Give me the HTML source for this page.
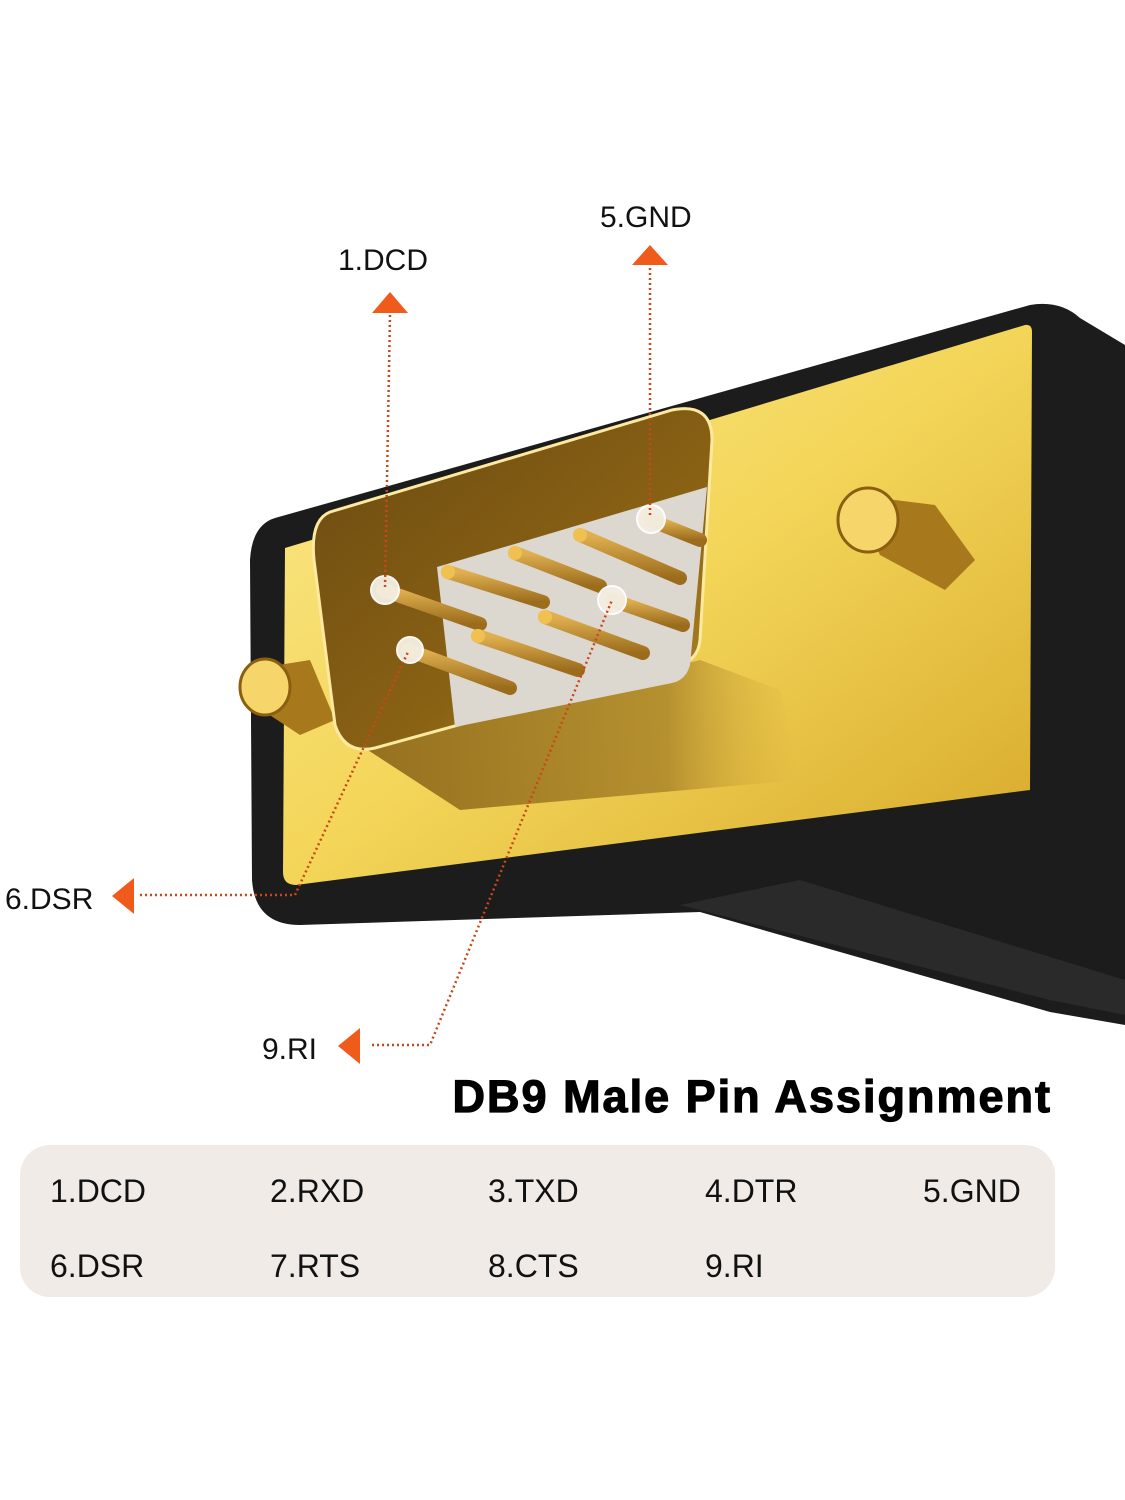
<!DOCTYPE html>
<html><head><meta charset="utf-8"><style>
body{margin:0;width:1125px;height:1500px;background:#fff;overflow:hidden;font-family:"Liberation Sans",sans-serif}
svg{position:absolute;left:0;top:0}
</style></head><body>
<svg width="1125" height="1500" viewBox="0 0 1125 1500">
<defs>
<linearGradient id="gold" x1="0" y1="0" x2="1" y2="1">
<stop offset="0" stop-color="#fbe98e"/><stop offset="0.5" stop-color="#f3d558"/><stop offset="1" stop-color="#d6a82a"/></linearGradient>
<linearGradient id="shell" x1="0" y1="0" x2="1" y2="1">
<stop offset="0" stop-color="#6b4a12"/><stop offset="0.6" stop-color="#8a6214"/><stop offset="1" stop-color="#b48a2a"/></linearGradient>
<linearGradient id="sh" x1="0" y1="0" x2="1" y2="0">
<stop offset="0" stop-color="#8a6418"/><stop offset="0.7" stop-color="#b08a2c"/><stop offset="1" stop-color="#d8b040" stop-opacity="0"/></linearGradient>
<linearGradient id="rod" x1="0" y1="0" x2="0" y2="1">
<stop offset="0" stop-color="#e0b050"/><stop offset="1" stop-color="#9b6c1c"/></linearGradient>
</defs>
<path d="M275 518 L1030 305 Q1060 300 1080 318 L1125 345 L1125 1025 L1050 1012 L700 912 L300 925 Q255 925 252 880 L250 560 Q252 525 275 518 Z" fill="#1c1c1c"/>
<path d="M680 905 L1050 1000 L1125 1015 L1125 980 L800 880 Z" fill="#2a2a2a"/>
<path d="M285 548 L1025 325 Q1032 324 1032 332 L1030 790 L296 885 Q283 885 283 872 Z" fill="url(#gold)"/>
<path d="M360 745 L700 660 L780 690 L800 780 L460 810 Z" fill="url(#sh)" opacity="0.9"/>
<g>
<path d="M260 668 L310 660 L335 720 L300 735 L262 710 Z" fill="#a8781c"/>
<ellipse cx="265" cy="687" rx="25" ry="28" fill="#f6d66a" stroke="#8a6010" stroke-width="3"/>
<path d="M855 495 L935 505 L975 560 L945 590 L880 555 Z" fill="#a8781c"/>
<ellipse cx="868" cy="520" rx="30" ry="32" fill="#f6d66a" stroke="#8a6010" stroke-width="3"/>
</g>
<path d="M330 512 L672 410 Q712 402 712 440 L700 640 Q698 660 680 664 L375 748 Q345 755 335 725 L314 560 Q310 520 330 512 Z" fill="url(#shell)" stroke="#fde9a0" stroke-width="3"/>
<path d="M437 567 L707 487 L690 665 Q686 680 672 683 L455 727 Z" fill="#dcd8d0"/>
<g stroke="url(#rod)" stroke-width="14" stroke-linecap="round">
<line x1="383" y1="590" x2="480" y2="624"/>
<line x1="408" y1="650" x2="510" y2="688"/>
<line x1="448" y1="572" x2="543" y2="602"/>
<line x1="478" y1="636" x2="578" y2="670"/>
<line x1="515" y1="553" x2="600" y2="586"/>
<line x1="545" y1="617" x2="643" y2="653"/>
<line x1="580" y1="535" x2="680" y2="578"/>
<line x1="612" y1="600" x2="683" y2="625"/>
<line x1="650" y1="520" x2="700" y2="540"/>
</g>
<g fill="#f0c050">
<circle cx="448" cy="572" r="7"/><circle cx="478" cy="636" r="7"/><circle cx="515" cy="553" r="7"/><circle cx="545" cy="617" r="7"/><circle cx="580" cy="535" r="7"/>
</g>
<g fill="#f5efe2" stroke="#fff" stroke-width="2" opacity="0.95">
<circle cx="385" cy="590" r="14"/><circle cx="410" cy="650" r="13"/><circle cx="612" cy="600" r="14"/><circle cx="651" cy="519" r="14"/>
</g>
<g stroke="#c8481a" stroke-width="2.5" stroke-dasharray="2 3" fill="none">
<line x1="390" y1="315" x2="385" y2="588"/>
<line x1="650" y1="268" x2="650" y2="518"/>
<polyline points="140,895 295,895 408,652"/>
<polyline points="372,1045 430,1045 612,600"/>
</g>
<g fill="#f05a1a">
<polygon points="390,292 372,313 408,313"/>
<polygon points="650,245 632,265 668,265"/>
<polygon points="112,896 134,878 134,914"/>
<polygon points="338,1046 360,1028 360,1064"/>
</g>
<g font-size="30" fill="#111">
<text x="338" y="270">1.DCD</text>
<text x="600" y="227">5.GND</text>
<text x="5" y="909">6.DSR</text>
<text x="262" y="1059">9.RI</text>
</g>
<text x="1052" y="1112" text-anchor="end" font-size="45" font-weight="900" letter-spacing="2" fill="#000" stroke="#000" stroke-width="1.2">DB9 Male Pin Assignment</text>
<rect x="20" y="1145" width="1035" height="152" rx="30" fill="#f1ebe7"/>
<g font-size="32" fill="#111">
<text x="50" y="1202">1.DCD</text><text x="270" y="1202">2.RXD</text><text x="488" y="1202">3.TXD</text><text x="705" y="1202">4.DTR</text><text x="923" y="1202">5.GND</text>
<text x="50" y="1277">6.DSR</text><text x="270" y="1277">7.RTS</text><text x="488" y="1277">8.CTS</text><text x="705" y="1277">9.RI</text>
</g>
</svg>
</body></html>
